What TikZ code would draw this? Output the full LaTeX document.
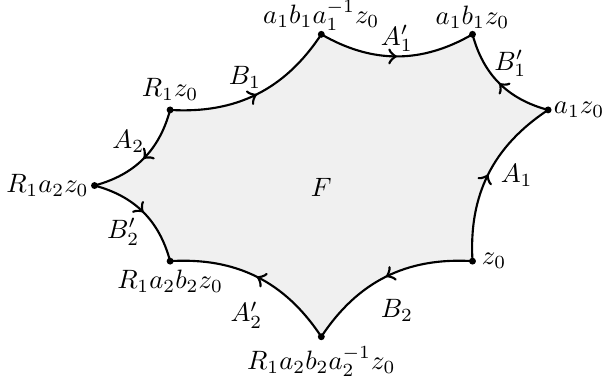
\documentclass[tikz,border=0pt]{standalone}
\usetikzlibrary{decorations.markings}
\begin{document}
\begin{tikzpicture}[
  side/.style={thick},
  midarrow/.style={postaction={decorate},
    decoration={markings, mark=at position 0.5 with {\arrow[scale=1.25]{>}}}},
  dotmark/.style={circle, fill=black, inner sep=0pt, minimum size=2.6pt},
  cw/.style={bend right=30},
  ccw/.style={bend left=30},
]
\useasboundingbox (-4.25,-2.56) rectangle (3.726,2.454);
% vertices
\coordinate (T)  at (0,2);
\coordinate (TR) at (2,2);
\coordinate (R)  at (3,1);
\coordinate (BR) at (2,-1);
\coordinate (B)  at (0,-2);
\coordinate (BL) at (-2,-1);
\coordinate (L)  at (-3,0);
\coordinate (TL) at (-2,1);
% fill
\fill[black!6] (TL) to[cw] (T) to[cw] (TR) to[cw] (R) to[cw] (BR)
  to[cw] (B) to[cw] (BL) to[cw] (L) to[cw] (TL) -- cycle;
% edges
\draw[side, midarrow] (TL) to[cw] (T);
\draw[side, midarrow] (T) to[cw] (TR);
\draw[side, midarrow] (R) to[ccw] (TR);
\draw[side, midarrow] (BR) to[ccw] (R);
\draw[side, midarrow] (BR) to[cw] (B);
\draw[side, midarrow] (B) to[cw] (BL);
\draw[side, midarrow] (L) to[ccw] (BL);
\draw[side, midarrow] (TL) to[ccw] (L);
% dots
\foreach \p in {T,TR,R,BR,B,BL,L,TL} \node[dotmark] (d\p) at (\p) {};
% vertex labels
\node[above=1.2pt, inner sep=0pt] (lT)  at (T)  {$a_1b_1a_1^{-1}z_0$};
\node[above, inner sep=2pt] (lTR) at (TR) {$a_1b_1z_0$};
\node[right, inner sep=2pt] (lR)  at (R)  {$a_1z_0$};
\node[right] (lBR) at (BR) {$z_0$};
\node[below] (lB)  at (B)  {$R_1a_2b_2a_2^{-1}z_0$};
\node[below] (lBL) at (BL) {$R_1a_2b_2z_0$};
\node[left, inner sep=2pt]  (lL)  at (L)  {$R_1a_2z_0$};
\node[above] (lTL) at (TL) {$R_1z_0$};
% edge labels
\node (eB1)  at (-1.01,1.435)  {$B_1$};
\node (eA1p) at (1.0,1.947)    {$A_1'$};
\node (eB1p) at (2.50,1.616)   {$B_1'$};
\node (eA1)  at (2.585,0.139)  {$A_1$};
\node (eB2)  at (1.0,-1.647)   {$B_2$};
\node (eA2p) at (-0.99,-1.713) {$A_2'$};
\node (eB2p) at (-2.62,-0.611) {$B_2'$};
\node (eA2)  at (-2.553,0.579) {$A_2$};
\node (F) at (0,-0.02) {$F$};
\end{tikzpicture}
\end{document}
